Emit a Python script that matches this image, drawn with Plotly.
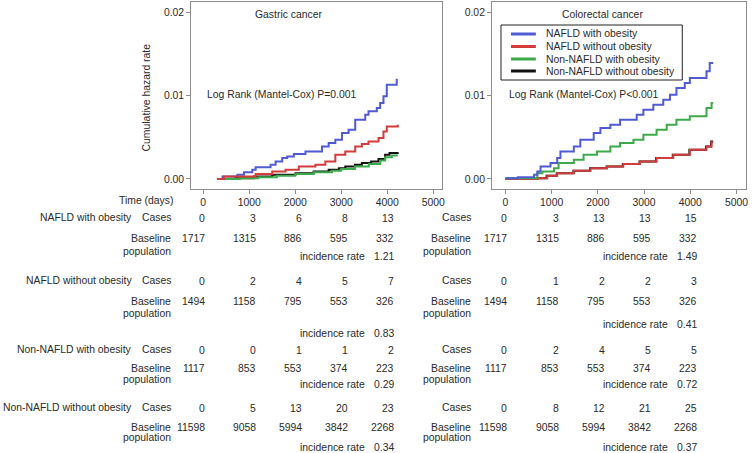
import plotly.graph_objects as go

W, H = 752, 453

# ---- data ----
groups = ["NAFLD with obesity", "NAFLD without obesity",
          "Non-NAFLD with obesity", "Non-NAFLD without obesity"]
colors = ["#4f5bd5", "#d43b3b", "#3daa4a", "#111111"]
times = [0, 1000, 2000, 3000, 4000]

baseline = [[1717, 1315, 886, 595, 332],
            [1494, 1158, 795, 553, 326],
            [1117, 853, 553, 374, 223],
            [11598, 9058, 5994, 3842, 2268]]
gastric_cases = [[0, 3, 6, 8, 13], [0, 2, 4, 5, 7], [0, 0, 1, 1, 2], [0, 5, 13, 20, 23]]
colorectal_cases = [[0, 3, 13, 13, 15], [0, 1, 2, 2, 3], [0, 2, 4, 5, 5], [0, 8, 12, 21, 25]]
gastric_ir = ["1.21", "0.83", "0.29", "0.34"]
colorectal_ir = ["1.49", "0.41", "0.72", "0.37"]

# cumulative hazard step curves (time in days, hazard)
g_blue_t = [310, 420, 743, 887, 1067, 1140, 1464, 1573, 1717, 1825, 1970, 2222, 2583, 2727,
            2872, 3016, 3160, 3304, 3521, 3593, 3773, 3846, 3918, 3990, 4206, 4230]
g_blue_v = [0, 0.0003, 0.0005, 0.0008, 0.0011, 0.0014, 0.0017, 0.0021, 0.0025, 0.0027, 0.0030,
            0.0033, 0.0039, 0.0043, 0.0047, 0.0055, 0.0059, 0.0071, 0.0077, 0.0081, 0.0085,
            0.0091, 0.0099, 0.0113, 0.0119, 0.0119]
g_red_t = [310, 450, 1140, 1500, 1790, 2078, 2439, 2655, 2872, 3088, 3304, 3449, 3593, 3810,
           3918, 3990, 4230]
g_red_v = [0, 0.0003, 0.0006, 0.0009, 0.0011, 0.0015, 0.0017, 0.0021, 0.0029, 0.0033, 0.0039,
           0.0042, 0.0045, 0.0049, 0.0057, 0.0063, 0.0065]
g_green_t = [310, 800, 1200, 1600, 2000, 2400, 2800, 3000, 3300, 3600, 3850, 3954, 4100, 4230]
g_green_v = [0, 0.0001, 0.0002, 0.0004, 0.0006, 0.0008, 0.0010, 0.0012, 0.0015, 0.0018,
             0.0022, 0.0026, 0.0028, 0.0028]
g_black_t = [310, 700, 1100, 1500, 2006, 2400, 2727, 2950, 3088, 3300, 3449, 3650, 3810,
             3954, 4050, 4230]
g_black_v = [0, 0.0001, 0.0003, 0.0005, 0.0007, 0.0009, 0.0011, 0.0013, 0.0015, 0.0017,
             0.0019, 0.0021, 0.0024, 0.0029, 0.0031, 0.0032]

c_blue_t = [0, 270, 620, 690, 760, 975, 1120, 1190, 1480, 1620, 1910, 2055, 2270, 2480, 2840,
            2985, 3200, 3415, 3560, 3700, 3880, 3990, 4350, 4420, 4495]
c_blue_v = [0.0001, 0.0002, 0.0005, 0.0009, 0.0015, 0.0019, 0.0025, 0.0033, 0.0039, 0.0047,
            0.0055, 0.0061, 0.0065, 0.0071, 0.0077, 0.0083, 0.0089, 0.0095, 0.0101, 0.0109,
            0.0115, 0.0121, 0.0129, 0.0139, 0.0139]
c_red_t = [0, 700, 905, 1120, 1480, 1840, 2200, 2550, 2910, 3270, 3630, 3990, 4350, 4460, 4495]
c_red_v = [0, 0.0001, 0.0004, 0.0007, 0.0010, 0.0013, 0.0015, 0.0018, 0.0021, 0.0025, 0.0029,
           0.0035, 0.0039, 0.0044, 0.0044]
c_green_t = [0, 690, 800, 1050, 1150, 1480, 1690, 1980, 2270, 2480, 2770, 2985, 3270, 3490,
             3700, 3990, 4350, 4460, 4495]
c_green_v = [0.0001, 0.0007, 0.0009, 0.0013, 0.0019, 0.0023, 0.0029, 0.0033, 0.0039, 0.0043,
             0.0047, 0.0053, 0.0059, 0.0065, 0.0071, 0.0075, 0.0085, 0.0091, 0.0091]
c_black_t = [0, 680, 890, 1110, 1470, 1830, 2190, 2540, 2900, 3260, 3620, 3980, 4340, 4450, 4495]
c_black_v = [0, 0.0001, 0.0004, 0.0007, 0.0010, 0.0013, 0.0015, 0.0018, 0.0021, 0.0025,
             0.0029, 0.0035, 0.0039, 0.0045, 0.0045]


def px(x):
    return x / W


def py(y):
    return 1 - y / H


FONT = "Liberation Sans, Arial, sans-serif"
FS = 10.4
TXT = "#2a2a2a"

fig = go.Figure()

gastric = [(g_blue_t, g_blue_v, 0), (g_black_t, g_black_v, 3),
           (g_green_t, g_green_v, 2), (g_red_t, g_red_v, 1)]
colorectal = [(c_black_t, c_black_v, 3), (c_red_t, c_red_v, 1),
              (c_green_t, c_green_v, 2), (c_blue_t, c_blue_v, 0)]

for t, v, k in gastric:
    fig.add_trace(go.Scatter(x=t, y=v, mode="lines", line_shape="hv",
                             line=dict(color=colors[k], width=2),
                             xaxis="x", yaxis="y", showlegend=False))
for t, v, k in colorectal:
    fig.add_trace(go.Scatter(x=t, y=v, mode="lines", line_shape="hv",
                             line=dict(color=colors[k], width=2),
                             xaxis="x2", yaxis="y2", showlegend=False))

ax_style = dict(showline=True, linecolor="#8c8c8c", linewidth=1, mirror=True,
                ticks="outside", ticklen=4, tickcolor="#8c8c8c", showgrid=False,
                zeroline=False, tickfont=dict(family=FONT, size=FS, color=TXT))
fig.update_layout(
    width=W, height=H, margin=dict(l=0, r=0, t=0, b=0),
    paper_bgcolor="white", plot_bgcolor="white", showlegend=False,
    font=dict(family=FONT, size=FS, color=TXT),
    xaxis=dict(domain=[px(192), px(444)], range=[-260, 5195], tickvals=[0, 1000, 2000, 3000, 4000, 5000],
               anchor="y", **ax_style),
    yaxis=dict(domain=[py(189), py(2)], range=[-0.0012, 0.0212], tickvals=[0, 0.01, 0.02],
               tickformat=".2f", anchor="x", **ax_style),
    xaxis2=dict(domain=[px(494), px(749)], range=[-290, 5205], tickvals=[0, 1000, 2000, 3000, 4000, 5000],
                anchor="y2", **ax_style),
    yaxis2=dict(domain=[py(189), py(2)], range=[-0.0012, 0.0212], tickvals=[0, 0.01, 0.02],
                tickformat=".2f", anchor="x2", **ax_style),
)


def note(text, x, y, xref="paper", anchor="right"):
    fig.add_annotation(text=text, x=x, y=py(y), xref=xref, yref="paper",
                       xanchor=anchor, yanchor="middle", showarrow=False,
                       font=dict(family=FONT, size=FS, color=TXT))


# panel texts
note("Gastric cancer", px(290), 14, anchor="center")
note("Colorectal cancer", px(605), 15, anchor="center")
note("Log Rank (Mantel-Cox) P=0.001", px(206), 95, anchor="left")
note("Log Rank (Mantel-Cox) P<0.001", px(509), 95, anchor="left")
fig.add_annotation(text="Cumulative hazard rate", x=px(148), y=py(97), xref="paper", yref="paper",
                   textangle=-90, showarrow=False, xanchor="center", yanchor="middle",
                   font=dict(family=FONT, size=FS, color=TXT))

# legend (drawn by hand, the box is tight)
fig.add_shape(type="rect", xref="paper", yref="paper", x0=px(503), x1=px(685), y0=py(80), y1=py(25),
              line=dict(color="#222", width=1), fillcolor="white", layer="below")
leg_y = [34, 46.5, 59, 71]
for k, name in enumerate(groups):
    fig.add_shape(type="line", xref="paper", yref="paper", x0=px(513), x1=px(538),
                  y0=py(leg_y[k]), y1=py(leg_y[k]), line=dict(color=colors[k], width=3))
    note(name, px(546), leg_y[k], anchor="left")

# risk table
note("Time (days)", px(176), 200)
row_cases = [217, 280, 349, 407]
row_base = [238, 301, 368, 427]
row_pop = [252, 313, 379, 437]
row_ir = {"x": [256, 333, 384, 447], "x2": [256, 324, 384, 447]}


def col_x(j, t):
    return t + 85 if j == 0 else t + 195


for i, name in enumerate(groups):
    note(name, px(135), row_cases[i])
    for xr, lab_x, cases, ir in (("x", 174, gastric_cases, gastric_ir),
                                 ("x2", 475, colorectal_cases, colorectal_ir)):
        note("Cases", px(lab_x), row_cases[i])
        note("Baseline", px(lab_x), row_base[i])
        note("population", px(lab_x), row_pop[i])
        for j, t in enumerate(times):
            note(str(cases[i][j]), col_x(j, t), row_cases[i] + 1, xref=xr)
            note(str(baseline[i][j]), col_x(j, t), row_base[i], xref=xr)
        note("incidence rate", 3570, row_ir[xr][i], xref=xr)
        note(ir[i], col_x(4, times[4]), row_ir[xr][i], xref=xr)

# the page body has a default 8px margin; drop it so the figure fills the window
fig.write_html("out.html", config={"displayModeBar": False},
               post_script="document.body.style.margin='0';")
